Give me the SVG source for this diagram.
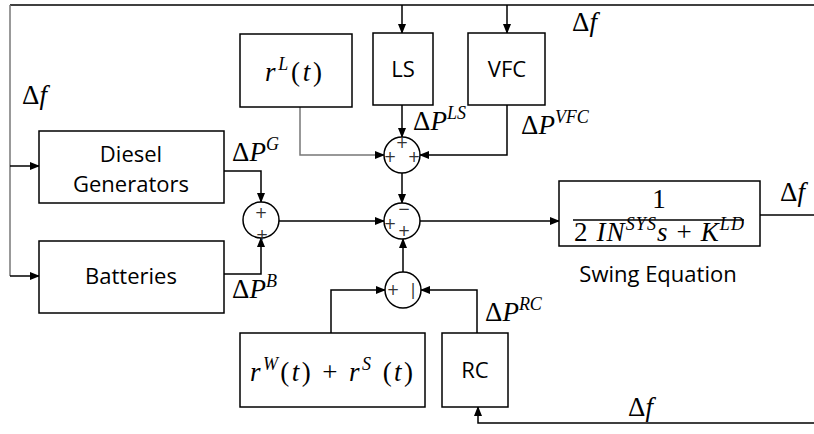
<svg xmlns="http://www.w3.org/2000/svg" width="814" height="434" viewBox="0 0 814 434">
<defs>
<style>
.box{fill:#fff;stroke:#000;stroke-width:1.5}
.ln{fill:none;stroke:#000;stroke-width:1.5}
.gr{stroke:#777}
.lbl{font-family:"Open Sans",sans-serif;font-size:22px;fill:#000}
.m{font-family:"Liberation Serif",serif;font-size:27px;fill:#000}
.i{font-style:italic}
.sup{font-size:18px;font-style:italic}
.sg{font-family:"DejaVu Sans",sans-serif;font-size:15px;fill:#333}
.sum{fill:#fff;stroke:#000;stroke-width:1.5}
</style>
<marker id="ah" markerWidth="10" markerHeight="8" refX="9" refY="4" orient="auto" markerUnits="userSpaceOnUse"><path d="M0,0 L10,4 L0,8 z" fill="#000"/></marker>
</defs>
<rect width="814" height="434" fill="#fff"/>
<g id="connectors">
<path class="ln" d="M10,5 H814"/>
<path class="ln gr" d="M10,5 V276"/>
<path class="ln" d="M10,166 H39" marker-end="url(#ah)"/>
<path class="ln" d="M10,276 H39" marker-end="url(#ah)"/>
<path class="ln" d="M402,5 V33" marker-end="url(#ah)"/>
<path class="ln" d="M507,5 V33" marker-end="url(#ah)"/>
<path class="ln gr" d="M300,107 V155 H384" marker-end="url(#ah)"/>
<path class="ln" d="M402,105 V137" marker-end="url(#ah)"/>
<path class="ln" d="M507,105 V155 H420" marker-end="url(#ah)"/>
<path class="ln" d="M402,173 V203" marker-end="url(#ah)"/>
<path class="ln" d="M224,171 H261 V202" marker-end="url(#ah)"/>
<path class="ln" d="M224,274 H261 V238" marker-end="url(#ah)"/>
<path class="ln" d="M279,221 H384" marker-end="url(#ah)"/>
<path class="ln" d="M420,221 H559" marker-end="url(#ah)"/>
<path class="ln" d="M403,272 V239" marker-end="url(#ah)"/>
<path class="ln" d="M331,333 V290 H385" marker-end="url(#ah)"/>
<path class="ln" d="M477,333 V290 H421" marker-end="url(#ah)"/>
<path class="ln" d="M760,215 H814"/>
<path class="ln" d="M814,423 H478 V407" marker-end="url(#ah)"/>
</g>
<g id="diesel">
<rect class="box" x="39" y="131" width="185" height="72"/>
<text class="lbl" x="131" y="162" text-anchor="middle">Diesel</text>
<text class="lbl" x="131" y="192" text-anchor="middle">Generators</text>
</g>
<g id="batteries">
<rect class="box" x="39" y="241" width="185" height="72"/>
<text class="lbl" x="131" y="284" text-anchor="middle">Batteries</text>
</g>
<g id="rL">
<rect class="box" x="240" y="34" width="112" height="73"/>
<text class="m" x="265" y="81" textLength="57" lengthAdjust="spacing"><tspan class="i">r</tspan><tspan class="sup" dy="-11">L</tspan><tspan dy="11">(</tspan><tspan class="i">t</tspan>)</text>
</g>
<g id="ls">
<rect class="box" x="373" y="33" width="60" height="72"/>
<text class="lbl" x="403" y="77" text-anchor="middle">LS</text>
</g>
<g id="vfc">
<rect class="box" x="468" y="33" width="77" height="72"/>
<text class="lbl" x="507" y="77" text-anchor="middle">VFC</text>
</g>
<g id="sum1">
<circle class="sum" cx="402" cy="155" r="18"/>
<text class="sg" x="402" y="148" text-anchor="middle">+</text>
<text class="sg" x="390" y="162" text-anchor="middle">+</text>
<text class="sg" x="414" y="162" text-anchor="middle">+</text>
</g>
<g id="sum2">
<circle class="sum" cx="402" cy="221" r="18"/>
<text class="sg" x="404" y="214" text-anchor="middle">−</text>
<text class="sg" x="390" y="229" text-anchor="middle">+</text>
<text class="sg" x="404" y="236" text-anchor="middle">+</text>
</g>
<g id="sum3">
<circle class="sum" cx="261" cy="220" r="18"/>
<text class="sg" x="261" y="218" text-anchor="middle">+</text>
<text class="sg" x="262" y="240" text-anchor="middle">+</text>
</g>
<g id="sum4">
<circle class="sum" cx="403" cy="290" r="18"/>
<text class="sg" x="393" y="295" text-anchor="middle">+</text>
<text class="sg" x="413" y="295" text-anchor="middle">|</text>
</g>
<g id="swing">
<rect class="box" x="559" y="181" width="201" height="65"/>
<text class="m" x="659" y="208" text-anchor="middle">1</text>
<path class="ln" d="M573,220 H744" stroke-width="2"/>
<text class="m" x="574" y="241" textLength="170" lengthAdjust="spacing">2 <tspan class="i">IN</tspan><tspan class="sup" dy="-11">SYS</tspan><tspan class="i" dy="11">s</tspan> + <tspan class="i">K</tspan><tspan class="sup" dy="-11">LD</tspan></text>
<text class="lbl" x="658" y="282" text-anchor="middle">Swing Equation</text>
</g>
<g id="rWS">
<rect class="box" x="240" y="333" width="185" height="74"/>
<text class="m" x="250" y="381" textLength="163" lengthAdjust="spacing"><tspan class="i">r</tspan><tspan class="sup" dy="-11">W</tspan><tspan dy="11">(</tspan><tspan class="i">t</tspan>) + <tspan class="i">r</tspan><tspan class="sup" dy="-11">S</tspan><tspan dy="11"> (</tspan><tspan class="i">t</tspan>)</text>
</g>
<g id="rc">
<rect class="box" x="442" y="333" width="66" height="74"/>
<text class="lbl" x="475" y="378" text-anchor="middle">RC</text>
</g>
<g id="labels">
<text class="m" x="572" y="31">Δ<tspan class="i">f</tspan></text>
<text class="m" x="22" y="104">Δ<tspan class="i">f</tspan></text>
<text class="m" x="780" y="201">Δ<tspan class="i">f</tspan></text>
<text class="m" x="628" y="416">Δ<tspan class="i">f</tspan></text>
<text class="m" x="232" y="161">Δ<tspan class="i">P</tspan><tspan class="sup" dy="-11">G</tspan></text>
<text class="m" x="232" y="298">Δ<tspan class="i">P</tspan><tspan class="sup" dy="-11">B</tspan></text>
<text class="m" x="413" y="130">Δ<tspan class="i">P</tspan><tspan class="sup" dy="-11">LS</tspan></text>
<text class="m" x="521" y="134">Δ<tspan class="i">P</tspan><tspan class="sup" dy="-11">VFC</tspan></text>
<text class="m" x="485" y="321">Δ<tspan class="i">P</tspan><tspan class="sup" dy="-11">RC</tspan></text>
</g>
</svg>
